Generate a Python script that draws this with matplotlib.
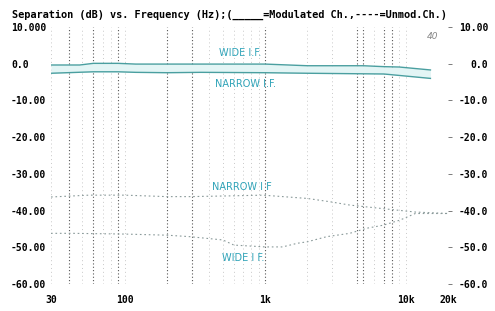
import matplotlib
matplotlib.use("Agg")
import matplotlib.pyplot as plt
from matplotlib.ticker import NullLocator

# ---- data ----
wide_mod_f = [30, 48, 60, 90, 120, 200, 350, 1000, 2000, 5000, 7000, 9000, 15000]
wide_mod_db = [-0.35, -0.35, 0.1, 0.1, -0.1, -0.1, -0.1, -0.1, -0.55, -0.55, -0.8, -0.9, -1.7]

narrow_mod_f = [30, 60, 90, 120, 200, 350, 1000, 2000, 7000, 15000]
narrow_mod_db = [-2.6, -2.2, -2.2, -2.35, -2.45, -2.35, -2.45, -2.6, -2.8, -4.0]

narrow_unmod_f = [30, 56, 100, 200, 290, 560, 970, 2000, 2900, 4000, 7000, 11700, 20000]
narrow_unmod_db = [-36.3, -35.8, -35.8, -36.2, -36.2, -36.0, -35.8, -36.7, -37.6, -38.5, -39.5, -40.4, -40.8]

wide_unmod_f = [30, 43, 100, 200, 290, 500, 600, 1000, 1330, 1700, 2000, 2750, 4000, 5300, 6900, 9100, 11700, 20000]
wide_unmod_db = [-46.2, -46.2, -46.4, -46.7, -47.1, -48.0, -49.4, -49.9, -49.9, -48.9, -48.5, -47.1, -46.2, -44.8, -44.0, -42.6, -40.8, -40.8]

x_ticks = [30, 100, 1000, 10000, 20000]
x_labels = ["30", "100", "1k", "10k", "20k"]
y_ticks = [10, 0, -10, -20, -30, -40, -50, -60]
y_labels_left = ["10.000", "0.0", "-10.00", "-20.00", "-30.00", "-40.00", "-50.00", "-60.00"]
y_labels_right = ["10.00", "0.0", "-10.0", "-20.0", "-30.0", "-40.0", "-50.0", "-60.0"]

title = "Separation (dB) vs. Frequency (Hz);(_____=Modulated Ch.,----=Unmod.Ch.)"

# grid positions
grid_light = [30, 50, 70, 80, 100, 400, 500, 600, 700, 800, 900, 2000, 3000, 6000, 9000, 10000, 20000]
grid_dark = [40, 60, 90, 200, 300, 1000, 4500, 5000, 7000, 8000]

# ---- figure ----
W, H = 495, 311
fig = plt.figure(figsize=(W / 100, H / 100), dpi=100)
ax = fig.add_axes([51 / W, 1 - 284 / H, (448 - 51) / W, (284 - 27) / H])
ax.set_xscale("log")
ax.set_xlim(30, 20000)
ax.set_ylim(-60, 10)

for s in ax.spines.values():
    s.set_visible(False)

for g in grid_light:
    ax.axvline(g, color="#c8c8c8", lw=0.7, ls=(0, (1, 3)), zorder=0)
for g in grid_dark:
    ax.axvline(g, color="#555555", lw=0.8, ls=(0, (1, 2)), zorder=0)

teal = "#4a9fa0"
ax.fill_between(wide_mod_f, wide_mod_db, [-2.6, -2.4, -2.2, -2.2, -2.35, -2.45, -2.35, -2.45, -2.6, -2.7, -2.8, -3.0, -4.0],
                color="#e3f5f5", lw=0, zorder=1)
ax.plot(wide_mod_f, wide_mod_db, color=teal, lw=1.0, zorder=3)
ax.plot(narrow_mod_f, narrow_mod_db, color=teal, lw=1.0, zorder=3)
ax.plot(narrow_unmod_f, narrow_unmod_db, color="#8a9a9a", lw=0.8, ls=(0, (1.5, 2.5)), zorder=3)
ax.plot(wide_unmod_f, wide_unmod_db, color="#8a9a9a", lw=0.8, ls=(0, (1.5, 2.5)), zorder=3)

lab = dict(color="#2fa3b8", fontsize=7, ha="center", va="center", family="DejaVu Sans")
ax.text(663, 2.9, "WIDE I.F.", **lab)
ax.text(720, -5.5, "NARROW I.F.", **lab)
ax.text(684, -33.6, "NARROW I F", **lab)
ax.text(700, -52.9, "WIDE I F.", **lab)
ax.text(15500, 7.4, "40", color="#888888", fontsize=6.5, style="italic", ha="center", va="center")

mono = "DejaVu Sans Mono"
ax.set_xticks(x_ticks)
ax.set_xticklabels(x_labels)
ax.xaxis.set_minor_locator(NullLocator())
ax.tick_params(axis="x", length=0, pad=8, labelsize=7)
for t in ax.get_xticklabels():
    t.set_family(mono)
    t.set_fontweight("bold")

ax.set_yticks(y_ticks)
ax.set_yticklabels(y_labels_left)
ax.tick_params(axis="y", length=0, pad=28.8, labelsize=7)
for t in ax.get_yticklabels():
    t.set_horizontalalignment("left")
    t.set_family(mono)
    t.set_fontweight("bold")

ax2 = ax.twinx()
ax2.set_ylim(-60, 10)
for s in ax2.spines.values():
    s.set_visible(False)
ax2.set_yticks(y_ticks)
ax2.set_yticklabels(y_labels_right)
ax2.tick_params(axis="y", length=3, width=0.6, color="#666666", direction="out", pad=25.8, labelsize=7)
for t in ax2.get_yticklabels():
    t.set_horizontalalignment("right")
    t.set_family(mono)
    t.set_fontweight("bold")

fig.text(12 / W, 1 - 15 / H, title, fontsize=7.4, family=mono, fontweight="bold", va="center", ha="left")

fig.savefig("out.png", dpi=100)
